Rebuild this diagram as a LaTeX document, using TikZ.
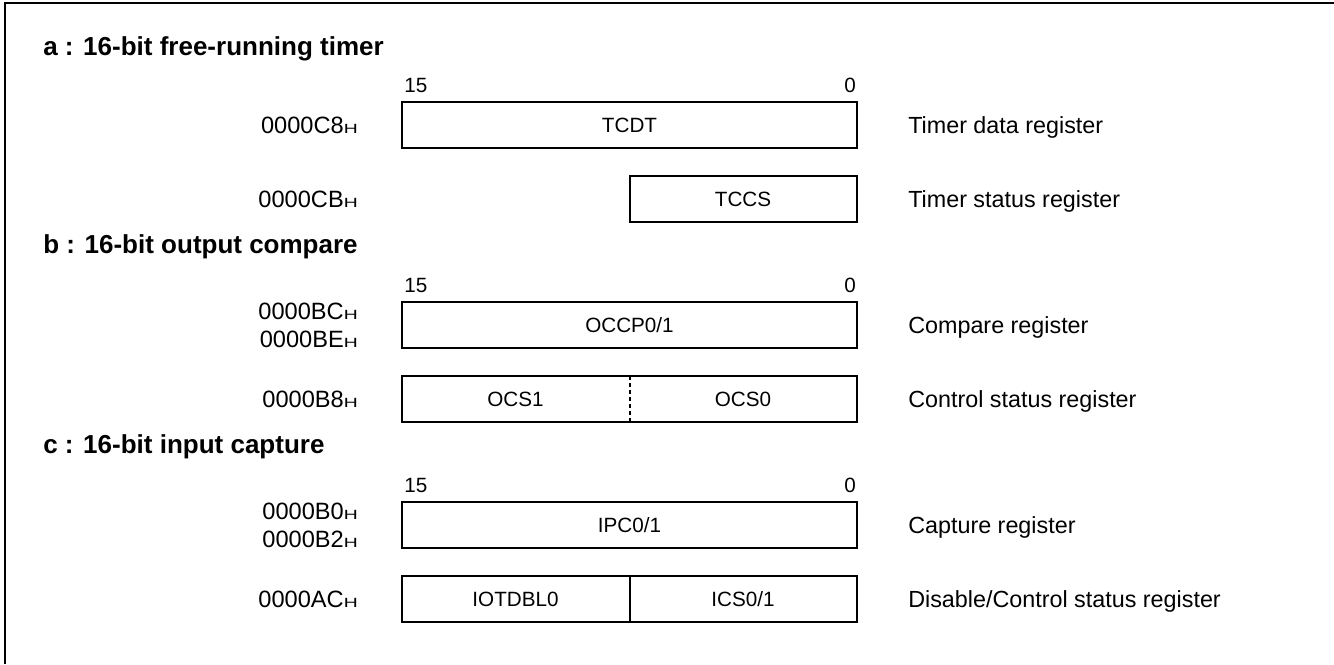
\documentclass[tikz,border=0pt]{standalone}
\usepackage{fontspec}
\setmainfont{Liberation Sans}
\newcommand{\hexaddr}[1]{#1\scalebox{1.45}[1]{\fontsize{10}{12}\selectfont H}}
\tikzset{
  grouphead/.style={anchor=west,inner sep=0pt,font=\fontsize{19.5}{23}\selectfont\bfseries,
    text height=14pt,text depth=0pt},
  addrlabel/.style={anchor=east,inner sep=0pt,font=\fontsize{17.7}{21}\selectfont,
    text height=12.7pt,text depth=0pt},
  reglabel/.style={anchor=west,inner sep=0pt,font=\fontsize{17.5}{21}\selectfont,
    text height=12.5pt,text depth=0pt},
  fieldname/.style={inner sep=0pt,font=\fontsize{15.5}{18}\selectfont,
    text height=11.1pt,text depth=0pt},
  bitno/.style={inner sep=0pt,font=\fontsize{15.5}{18}\selectfont,
    text height=11.1pt,text depth=0pt},
  regbox/.style={line width=1.5pt},
  splitline/.style={line width=1.5pt,dash pattern=on 3pt off 2.25pt},
}
\begin{document}
\begin{tikzpicture}[x=0.75pt,y=-0.75pt]
\useasboundingbox (0,0) rectangle (1334,664);
\draw[line width=2pt] (5,664) |- (1334,3);
% a : free-running timer
\node[grouphead] (heada) at (43,46) {a : 16-bit free-running timer};
\node[bitno,anchor=west] (msba) at (404,85) {15};
\node[bitno,anchor=east] (lsba) at (856,85) {0};
\draw[regbox] (402,102) rectangle (857,148);
\node[fieldname] (tcdt) at (629.5,125) {TCDT};
\node[addrlabel] (addrtcdt) at (358,125) {\hexaddr{0000C8}};
\node[reglabel] (desctcdt) at (908,125) {Timer data register};
\draw[regbox] (629.5,176) rectangle (857,222);
\node[fieldname] (tccs) at (743,199) {TCCS};
\node[addrlabel] (addrtccs) at (358,199) {\hexaddr{0000CB}};
\node[reglabel] (desctccs) at (908,199) {Timer status register};
% b : output compare
\node[grouphead] (headb) at (43,244) {b : 16-bit output compare};
\node[bitno,anchor=west] (msbb) at (404,285) {15};
\node[bitno,anchor=east] (lsbb) at (856,285) {0};
\draw[regbox] (402,302) rectangle (857,348);
\node[fieldname] (occp) at (629.5,325) {OCCP0/1};
\node[addrlabel] (addroccpa) at (358,311) {\hexaddr{0000BC}};
\node[addrlabel] (addroccpb) at (358,339.5) {\hexaddr{0000BE}};
\node[reglabel] (descoccp) at (908,325) {Compare register};
\draw[regbox] (402,376) rectangle (857,422);
\draw[splitline] (629.5,376) -- (629.5,422);
\node[fieldname] (ocsa) at (515.5,399) {OCS1};
\node[fieldname] (ocsb) at (743,399) {OCS0};
\node[addrlabel] (addrocs) at (358,399) {\hexaddr{0000B8}};
\node[reglabel] (descocs) at (908,399) {Control status register};
% c : input capture
\node[grouphead] (headc) at (43,444) {c : 16-bit input capture};
\node[bitno,anchor=west] (msbc) at (404,485) {15};
\node[bitno,anchor=east] (lsbc) at (856,485) {0};
\draw[regbox] (402,502) rectangle (857,548);
\node[fieldname] (ipc) at (629.5,525) {IPC0/1};
\node[addrlabel] (addripca) at (358,511) {\hexaddr{0000B0}};
\node[addrlabel] (addripcb) at (358,539.5) {\hexaddr{0000B2}};
\node[reglabel] (descipc) at (908,525) {Capture register};
\draw[regbox] (402,576) rectangle (857,622);
\draw[regbox] (629.5,576) -- (629.5,622);
\node[fieldname] (iotdbl) at (515.5,599) {IOTDBL0};
\node[fieldname] (ics) at (743,599) {ICS0/1};
\node[addrlabel] (addrics) at (358,599) {\hexaddr{0000AC}};
\node[reglabel] (descics) at (908,599) {Disable/Control status register};
\end{tikzpicture}
\end{document}
